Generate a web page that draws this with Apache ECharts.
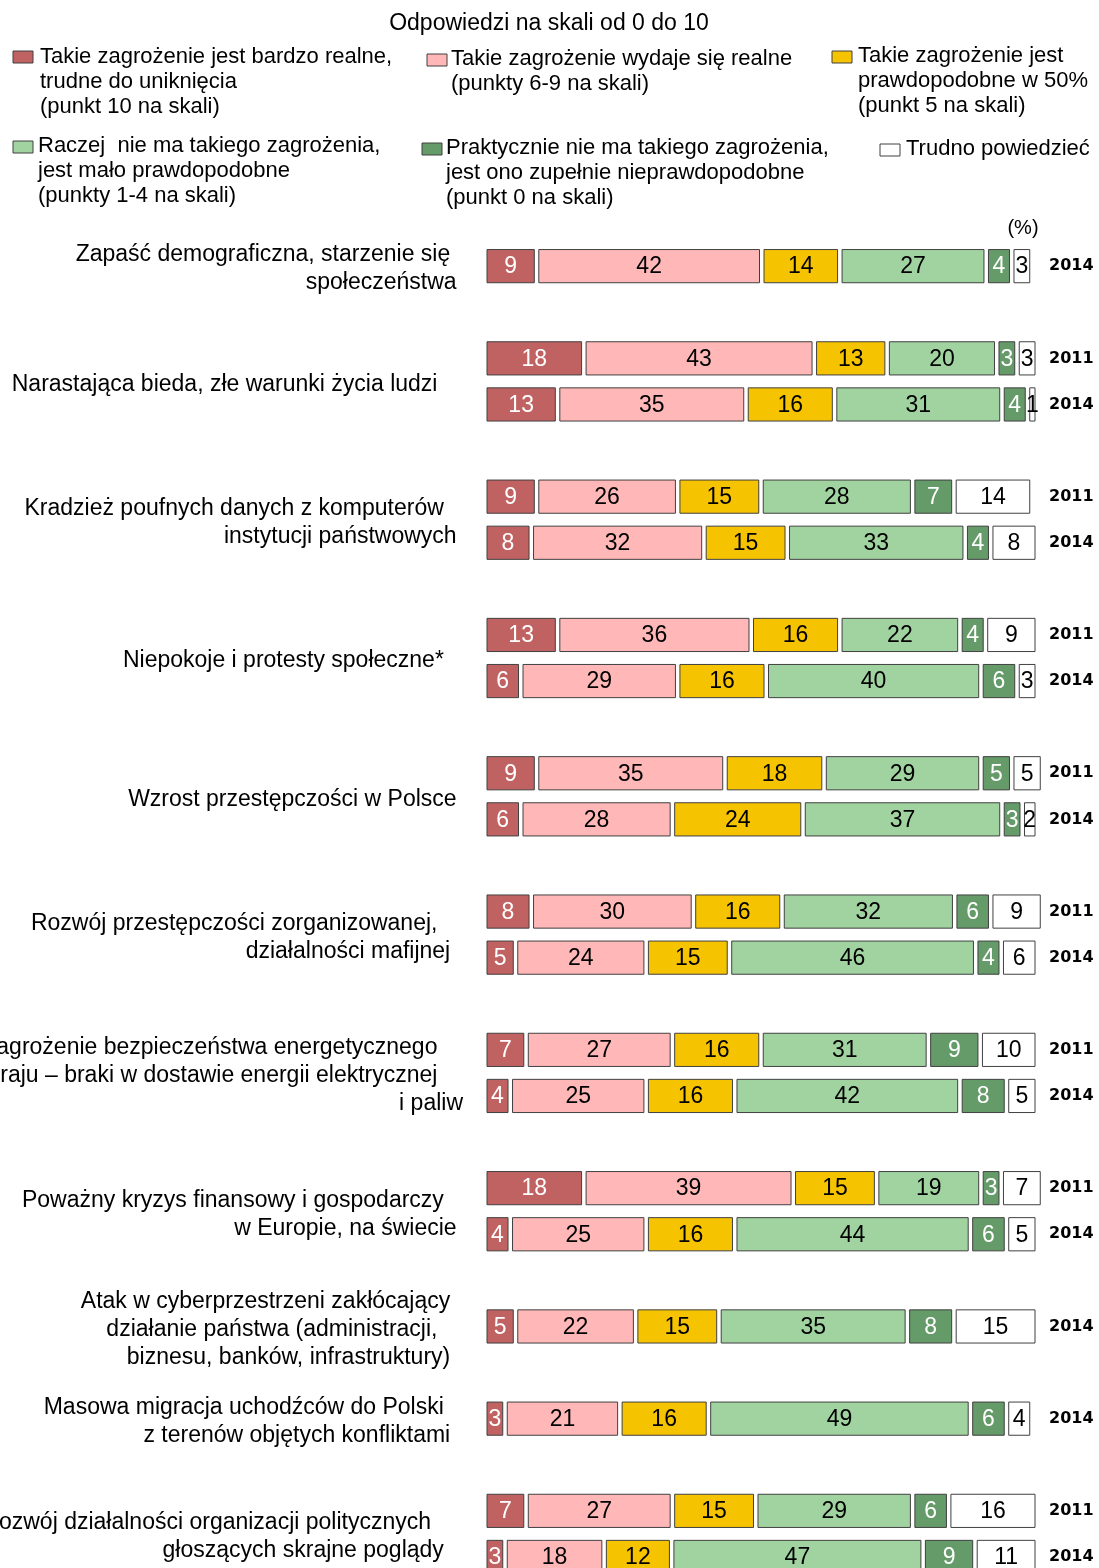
<!DOCTYPE html>
<html><head><meta charset="utf-8">
<script src="https://cdn.jsdelivr.net/npm/echarts@6/dist/echarts.min.js"></script>
<style>html,body{margin:0;padding:0;background:#fff}#c{width:1099px;height:1568px}</style>
</head><body><div id="c"></div>
<script>
// ---- category slots (right-hand tick labels) ----
const yearTicks = ['', '2014', '',
  '2011', '2014', '', '2011', '2014', '', '2011', '2014', '', '2011', '2014', '',
  '2011', '2014', '', '2011', '2014', '', '2011', '2014', '',
  '2014', '', '2014', '', '2011', '2014'];
// which topic each slot belongs to (-1 = spacer)
const topicOfRow = [-1, 0, -1, 1, 1, -1, 2, 2, -1, 3, 3, -1, 4, 4, -1, 5, 5, -1, 6, 6, -1, 7, 7, -1, 8, -1, 9, -1, 10, 10];
const NB = '\u00a0';
const topics = [
  ['Zapaść demograficzna, starzenie się' + NB + NB, 'społeczeństwa' + NB],
  ['Narastająca bieda, złe warunki życia ludzi' + NB + NB + NB + NB],
  ['Kradzież poufnych danych z komputerów' + NB + NB + NB, 'instytucji państwowych' + NB],
  ['Niepokoje i protesty społeczne*' + NB + NB + NB],
  ['Wzrost przestępczości w Polsce' + NB],
  ['Rozwój przestępczości zorganizowanej,' + NB + NB + NB + NB, 'działalności mafijnej' + NB + NB],
  ['Zagrożenie bezpieczeństwa energetycznego' + NB + NB + NB + NB, 'kraju – braki w dostawie energii elektrycznej' + NB + NB + NB + NB, 'i paliw'],
  ['Poważny kryzys finansowy i gospodarczy' + NB + NB + NB, 'w Europie, na świecie' + NB],
  ['Atak w cyberprzestrzeni zakłócający' + NB + NB, 'działanie państwa (administracji,' + NB + NB + NB + NB, 'biznesu, banków, infrastruktury)' + NB + NB],
  ['Masowa migracja uchodźców do Polski' + NB + NB + NB, 'z terenów objętych konfliktami' + NB + NB],
  ['Rozwój działalności organizacji politycznych' + NB + NB + NB + NB + NB, 'głoszących skrajne poglądy' + NB + NB + NB]
];
// ---- series values per slot ----
const pt10  = [null, 9, null, 18, 13, null, 9, 8, null, 13, 6, null, 9, 6, null, 8, 5, null, 7, 4, null, 18, 4, null, 5, null, 3, null, 7, 3];
const pt69  = [null, 42, null, 43, 35, null, 26, 32, null, 36, 29, null, 35, 28, null, 30, 24, null, 27, 25, null, 39, 25, null, 22, null, 21, null, 27, 18];
const pt5   = [null, 14, null, 13, 16, null, 15, 15, null, 16, 16, null, 18, 24, null, 16, 15, null, 16, 16, null, 15, 16, null, 15, null, 16, null, 15, 12];
const pt14  = [null, 27, null, 20, 31, null, 28, 33, null, 22, 40, null, 29, 37, null, 32, 46, null, 31, 42, null, 19, 44, null, 35, null, 49, null, 29, 47];
const pt0   = [null, 4, null, 3, 4, null, 7, 4, null, 4, 6, null, 5, 3, null, 6, 4, null, 9, 8, null, 3, 6, null, 8, null, 6, null, 6, 9];
const ptDK  = [null, 3, null, 3, 1, null, 14, 8, null, 9, 3, null, 5, 2, null, 9, 6, null, 10, 5, null, 7, 5, null, 15, null, 4, null, 16, 11];

const seriesValues = [pt10, pt69, pt5, pt14, pt0, ptDK];
const seriesNames = [
  'Takie zagrożenie jest bardzo realne, trudne do uniknięcia (punkt 10 na skali)',
  'Takie zagrożenie wydaje się realne (punkty 6-9 na skali)',
  'Takie zagrożenie jest prawdopodobne w 50% (punkt 5 na skali)',
  'Raczej nie ma takiego zagrożenia, jest mało prawdopodobne (punkty 1-4 na skali)',
  'Praktycznie nie ma takiego zagrożenia, jest ono zupełnie nieprawdopodobne (punkt 0 na skali)',
  'Trudno powiedzieć'
];
const legendLines = [
  ['Takie zagrożenie jest bardzo realne,', 'trudne do uniknięcia', '(punkt 10 na skali)'],
  ['Takie zagrożenie wydaje się realne', '(punkty 6-9 na skali)'],
  ['Takie zagrożenie jest', 'prawdopodobne w 50%', '(punkt 5 na skali)'],
  ['Raczej  nie ma takiego zagrożenia,', 'jest mało prawdopodobne', '(punkty 1-4 na skali)'],
  ['Praktycznie nie ma takiego zagrożenia,', 'jest ono zupełnie nieprawdopodobne', '(punkt 0 na skali)'],
  ['Trudno powiedzieć']
];
const colors = ['#C16262', '#FFB7B7', '#F6C300', '#A1D3A1', '#659A69', '#FFFFFF'];
const labelColors = ['#FFFFFF', '#000000', '#000000', '#000000', '#FFFFFF', '#000000'];

const FONT = '"Liberation Sans", Arial, sans-serif';
const GAP = 4.5;
const BAR_RATIO = 0.72;
const GRID_LEFT = 487, GRID_W = 525.5, GRID_TOP = 197, GRID_H = 1383;

const chart = echarts.init(document.getElementById('c'), null, {renderer: 'canvas'});

function buildData(k) {
  const out = [];
  for (let i = 0; i < yearTicks.length; i++) {
    const v = seriesValues[k][i];
    if (v == null) continue;
    let start = 0;
    for (let j = 0; j < k; j++) start += seriesValues[j][i] || 0;
    out.push([start, i, v, start + v]);
  }
  return out;
}

function makeRender(k) {
  return function (params, api) {
    const start = api.value(0), slot = api.value(1), v = api.value(2);
    const p = api.coord([start, slot]);
    const w = api.size([v, 0])[0];
    const band = api.size([0, 1])[1];
    const h = band * BAR_RATIO;
    const x = p[0] + k * GAP;
    return {
      type: 'group',
      children: [
        {type: 'rect', shape: {x: x, y: p[1] - h / 2, width: w, height: h},
         style: {fill: colors[k], stroke: '#404040', lineWidth: 1}},
        {type: 'text', style: {text: String(v), x: x + w / 2, y: p[1] + 1,
          align: 'center', verticalAlign: 'middle', textAlign: 'center', textVerticalAlign: 'middle',
          font: '23px ' + FONT, fill: labelColors[k]}}
      ]
    };
  };
}

const series = seriesNames.map((name, k) => ({
  type: 'custom', name: name, xAxisIndex: 0, yAxisIndex: 0,
  renderItem: makeRender(k), encode: {x: [0, 3], y: 1},
  itemStyle: {color: colors[k]}, data: buildData(k), animation: false, silent: true
}));

chart.setOption({
  animation: false,
  backgroundColor: '#ffffff',
  grid: {left: GRID_LEFT, width: GRID_W, top: GRID_TOP, height: GRID_H, containLabel: false, outerBoundsMode: 'none'},
  xAxis: {type: 'value', min: 0, max: 100, show: false},
  yAxis: [
    {type: 'category', data: yearTicks, inverse: true, show: false},
    {type: 'category', data: yearTicks, inverse: true, position: 'right',
     axisLine: {show: false}, axisTick: {show: false}, splitLine: {show: false},
     axisLabel: {interval: 0, margin: 1049 - (GRID_LEFT + GRID_W), align: 'left',
       fontFamily: '"DejaVu Sans", sans-serif', fontWeight: 'bold', fontSize: 16, color: '#000'}}
  ],
  series: series
});

// ---- topic labels, positioned with the category scale ----
const graphics = [];
topics.forEach((lines, t) => {
  const ys = [];
  topicOfRow.forEach((tt, i) => {
    if (tt === t) ys.push(chart.convertToPixel({yAxisIndex: 0}, i));
  });
  const yc = ys.reduce((a, b) => a + b, 0) / ys.length;
  graphics.push({type: 'text', x: 463, y: yc + 3, silent: true,
    style: {text: lines.join('\n'), textAlign: 'right', align: 'right', textVerticalAlign: 'middle', verticalAlign: 'middle',
      font: '23px ' + FONT, lineHeight: 28, fill: '#000'}});
});
// title & (%)
graphics.push({type: 'text', x: 549, y: 24, silent: true,
  style: {text: 'Odpowiedzi na skali od 0 do 10', textAlign: 'center', align: 'center', textVerticalAlign: 'middle', verticalAlign: 'middle',
    font: '23px ' + FONT, fill: '#000'}});
graphics.push({type: 'text', x: 1023, y: 228, silent: true,
  style: {text: '(%)', textAlign: 'center', align: 'center', textVerticalAlign: 'middle', verticalAlign: 'middle',
    font: '20px ' + FONT, fill: '#000'}});
// legend
const legendPos = [[13, 51, 40, 57], [427, 54, 451, 59], [832, 51, 858, 56], [13, 141, 38, 146], [422, 143, 446, 148], [880, 144, 906, 149]];
legendLines.forEach((lines, k) => {
  const lp = legendPos[k];
  graphics.push({type: 'rect', silent: true, shape: {x: lp[0], y: lp[1], width: 20, height: 12},
    style: {fill: colors[k], stroke: '#404040', lineWidth: 1}});
  graphics.push({type: 'text', x: lp[2], y: lp[3] - 12.5, silent: true,
    style: {text: lines.join('\n'), textAlign: 'left', align: 'left', textVerticalAlign: 'top', verticalAlign: 'top',
      font: '22px ' + FONT, lineHeight: 25, fill: '#000'}});
});
chart.setOption({graphic: graphics});
</script>
</body></html>
